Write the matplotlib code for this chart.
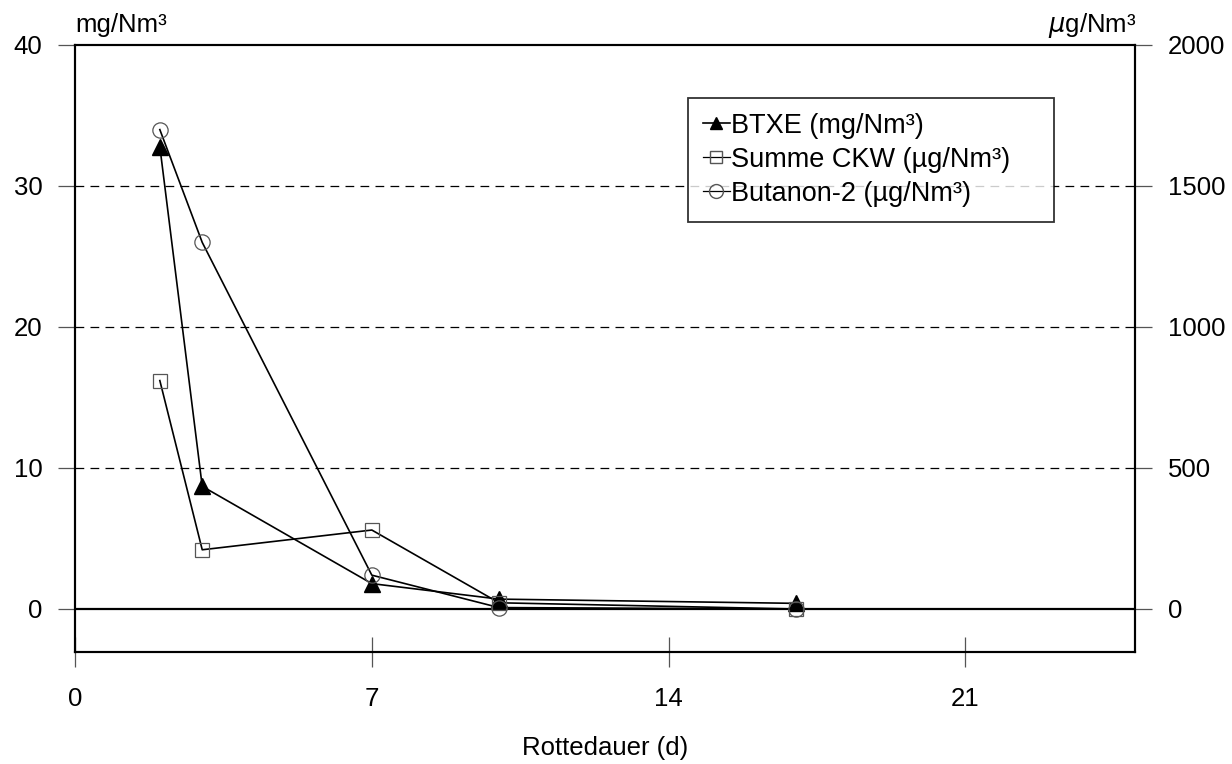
import matplotlib.pyplot as plt
from matplotlib.lines import Line2D

plt.rcParams['font.family'] = ['Liberation Sans', 'DejaVu Sans']

tage = [2, 3, 7, 10, 17]
btxe = [32.8, 8.7, 1.8, 0.7, 0.4]          # mg/Nm³, linke Achse
ckw = [810, 210, 280, 22, 0]               # µg/Nm³, rechte Achse
butanon = [1700, 1300, 120, 5, 0]          # µg/Nm³, rechte Achse

x_ticks = [0, 7, 14, 21]
y_ticks_links = [0, 10, 20, 30, 40]
y_ticks_rechts = [0, 500, 1000, 1500, 2000]

fig = plt.figure(figsize=(12.32, 7.64), dpi=100)
ax = fig.add_axes([0.0609, 0.1466, 0.8604, 0.7945])
ax2 = ax.twinx()

ax.set_xlim(0, 25)
ax.set_ylim(-3.05, 40)
ax2.set_ylim(-152.5, 2000)

# Gitterlinien und Nulllinie
for y in [10, 20, 30]:
    ax.axhline(y, color='black', lw=0.9, ls=(0, (7, 5)), zorder=1)
ax.axhline(0, color='black', lw=1.6, zorder=1)

ax.plot(tage, btxe, color='black', lw=1.2, marker='^', ms=11,
        mfc='black', mec='black', zorder=3)
ax2.plot(tage, ckw, color='black', lw=1.2, marker='s', ms=10,
         mfc='none', mec='#555555', mew=0.9, zorder=3)
ax2.plot(tage, butanon, color='black', lw=1.2, marker='o', ms=11,
         mfc='none', mec='#555555', mew=0.9, zorder=3)

ax.set_xticks(x_ticks)
ax.set_yticks(y_ticks_links)
ax2.set_yticks(y_ticks_rechts)

for a in (ax, ax2):
    for s in a.spines.values():
        s.set_linewidth(1.5)
ax.tick_params(axis='x', direction='inout', length=22, width=0.9, color='#555555',
               labelsize=18.5, pad=14)
ax.tick_params(axis='y', direction='out', length=12.5, width=0.9, color='#555555',
               labelsize=18.5, pad=11)
ax2.tick_params(axis='y', direction='out', length=12.5, width=0.9, color='#555555',
                labelsize=18.5, pad=11)

ax.set_xlabel('Rottedauer (d)', fontsize=18.5, labelpad=18)
fig.text(0.0609, 0.967, 'mg/Nm³', fontsize=18.5, ha='left', va='center')
fig.text(0.9225, 0.967, r'$\mu$g/Nm³', fontsize=18.5, ha='right', va='center')

handles = [
    Line2D([], [], color='black', lw=1.2, marker='^', ms=9, mfc='black'),
    Line2D([], [], color='black', lw=0.9, marker='s', ms=9, mfc='none', mec='#555555'),
    Line2D([], [], color='black', lw=0.9, marker='o', ms=10, mfc='none', mec='#555555'),
]
labels = ['BTXE (mg/Nm³)', 'Summe CKW (µg/Nm³)', 'Butanon-2 (µg/Nm³)']
leg = ax2.legend(handles, labels, loc='upper left',
                 bbox_to_anchor=(0.578, 0.0, 0.346, 0.913), mode='expand',
                 fontsize=19.5, frameon=True, fancybox=False, handlelength=1.0,
                 handletextpad=0.05, borderpad=0.55, labelspacing=0.3,
                 borderaxespad=0)
leg.get_frame().set_edgecolor('black')
leg.get_frame().set_linewidth(1.3)

fig.savefig('out.png', dpi=100)
